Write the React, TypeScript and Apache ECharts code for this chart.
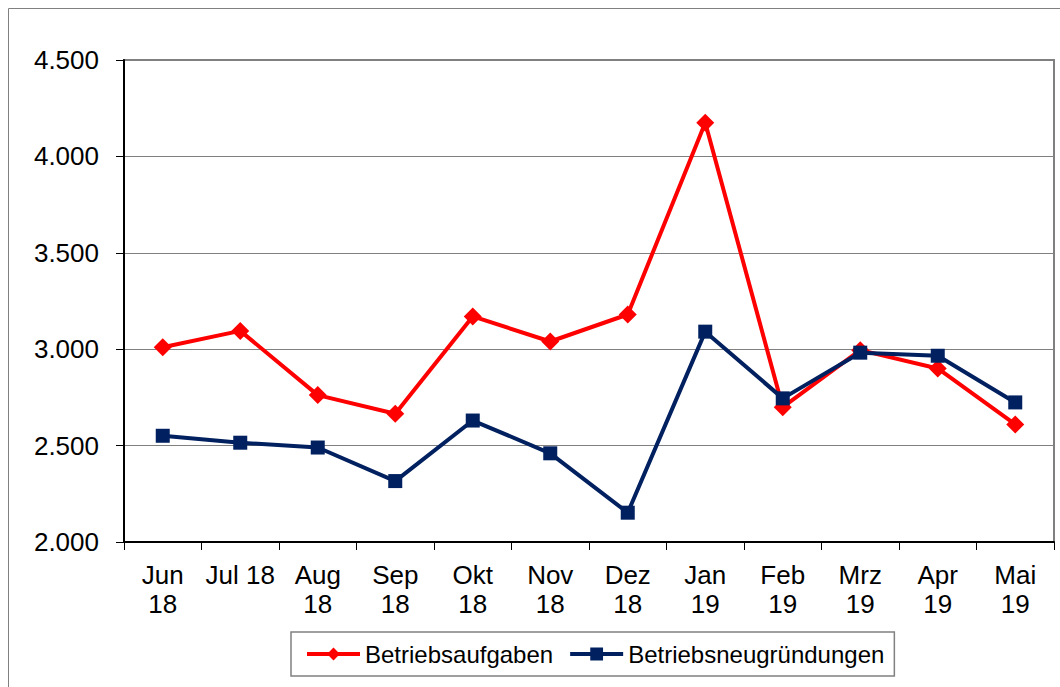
import React, { useEffect, useRef } from "react";
import * as echarts from "echarts";

const categories = ["Jun\n18", "Jul 18", "Aug\n18", "Sep\n18", "Okt\n18", "Nov\n18", "Dez\n18", "Jan\n19", "Feb\n19", "Mrz\n19", "Apr\n19", "Mai\n19"];
const betriebsaufgaben = [3010, 3095, 2762, 2665, 3170, 3040, 3180, 4175, 2699, 2995, 2900, 2610];
const betriebsneugruendungen = [2551, 2515, 2490, 2316, 2630, 2460, 2152, 3091, 2745, 2982, 2966, 2724];
const yTicks = { min: 2000, max: 4500, interval: 500 };

const FONT = 'Arial, "Liberation Sans", sans-serif';

export default function App() {
  const ref = useRef<HTMLDivElement>(null);
  useEffect(() => {
    if (!ref.current) return;
    const chart = echarts.init(ref.current, undefined, { renderer: "svg" });
    chart.setOption({
      animation: false,
      backgroundColor: "#ffffff",
      graphic: [
        {
          type: "rect",
          shape: { x: 8.5, y: 8.5, width: 1200, height: 1000 },
          style: { fill: "none", stroke: "#808080", lineWidth: 1 },
          silent: true,
          z: -10,
        },
      ],
      grid: {
        left: 124,
        right: 6,
        top: 60,
        bottom: 145,
        show: true,
        borderColor: "#808080",
        borderWidth: 2,
        backgroundColor: "transparent",
      },
      legend: {
        left: 291,
        top: 632,
        orient: "horizontal",
        padding: [10, 10, 10, 14],
        itemGap: 15,
        itemWidth: 53,
        itemHeight: 16,
        borderColor: "#808080",
        borderWidth: 1.5,
        lineStyle: { width: 4 },
        textStyle: { fontFamily: FONT, fontSize: 24, color: "#000" },
        data: ["Betriebsaufgaben", "Betriebsneugründungen"],
      },
      xAxis: {
        type: "category",
        data: categories,
        boundaryGap: true,
        axisLine: { lineStyle: { color: "#000", width: 2 } },
        axisTick: { show: true, length: 8, alignWithLabel: false, interval: 0, lineStyle: { color: "#000", width: 1 } },
        axisLabel: {
          interval: 0,
          margin: 18,
          fontFamily: FONT,
          fontSize: 26,
          lineHeight: 29,
          color: "#000",
        },
        splitLine: { show: false },
      },
      yAxis: {
        type: "value",
        min: yTicks.min,
        max: yTicks.max,
        interval: yTicks.interval,
        axisLine: { show: true, lineStyle: { color: "#000", width: 2 } },
        axisTick: { show: true, length: 8, lineStyle: { color: "#000", width: 1 } },
        axisLabel: {
          margin: 25,
          fontFamily: FONT,
          fontSize: 26,
          color: "#000",
          formatter: (v: number) => {
            const s = String(Math.round(v));
            return s.replace(/\B(?=(\d{3})+(?!\d))/g, ".");
          },
        },
        splitLine: { show: true, lineStyle: { color: "#808080", width: 1 } },
      },
      series: [
        {
          name: "Betriebsaufgaben",
          type: "line",
          data: betriebsaufgaben,
          symbol: "diamond",
          symbolSize: 18,
          lineStyle: { color: "#FF0000", width: 4 },
          itemStyle: { color: "#FF0000" },
          z: 2,
        },
        {
          name: "Betriebsneugründungen",
          type: "line",
          data: betriebsneugruendungen,
          symbol: "rect",
          symbolSize: 14,
          lineStyle: { color: "#00205F", width: 4 },
          itemStyle: { color: "#00205F" },
          z: 3,
        },
      ],
    });
    return () => chart.dispose();
  }, []);
  return <div ref={ref} style={{ position: "absolute", left: 0, top: 0, width: 1060, height: 687 }} />;
}
